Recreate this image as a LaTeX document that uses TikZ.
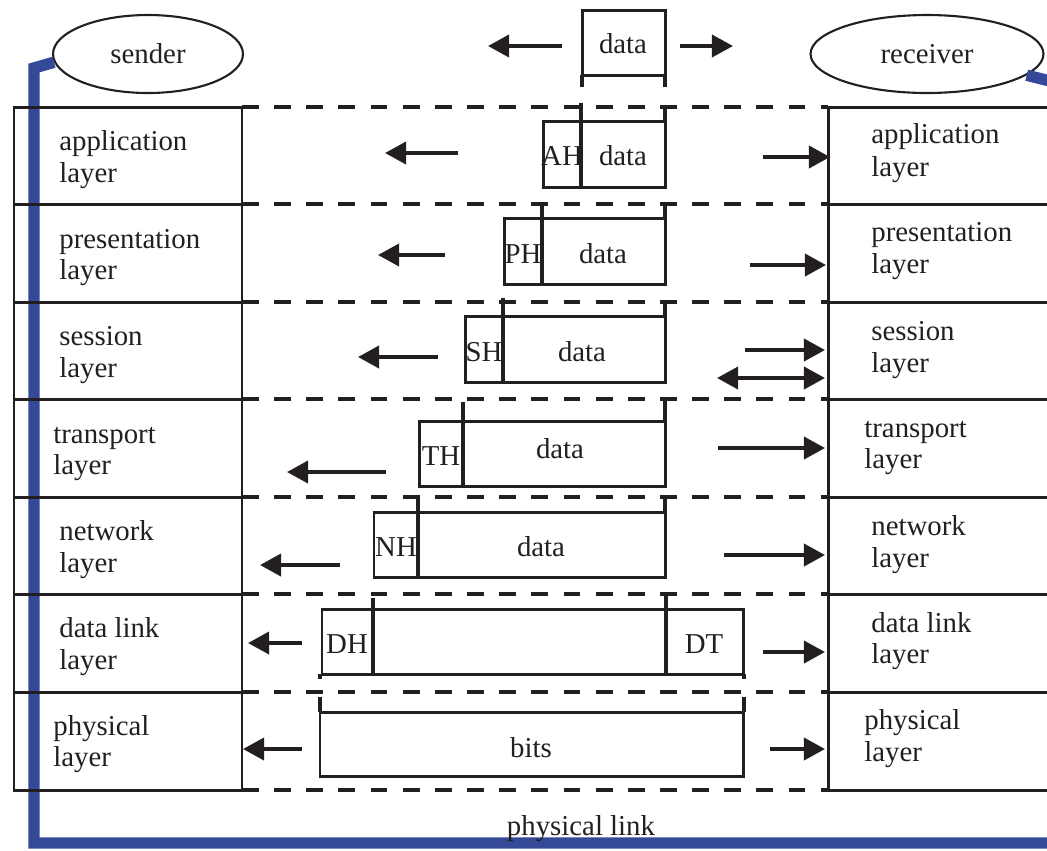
\documentclass[tikz,border=0pt]{standalone}
\usepackage{fontspec}
\setmainfont{Liberation Serif}
\usetikzlibrary{arrows.meta,shapes.geometric}
\definecolor{ink}{RGB}{35,31,32}
\definecolor{linkblue}{RGB}{52,73,152}
\begin{document}
\begin{tikzpicture}[x=0.02cm,y=-0.02cm,
  stackline/.style={ink, line width=1.7pt},
  dashline/.style={ink, line width=2pt, dash pattern=on 9.6pt off 8.7pt},
  pkt/.style={draw=ink, line width=1.7pt},
  sepline/.style={ink, line width=2.2pt},
  flow/.style={ink, line width=2.3pt, -{Triangle[length=12pt,width=12.5pt]}},
  flowboth/.style={ink, line width=2.3pt, {Triangle[length=12pt,width=12.5pt]}-{Triangle[length=12pt,width=12.5pt]}},
  lbl/.style={anchor=base west, inner sep=0pt, font=\fontsize{16.4}{18}\selectfont, text=ink},
  ptxt/.style={anchor=base, inner sep=0pt, font=\fontsize{16.4}{18}\selectfont, text=ink},
  endpt/.style={ellipse, draw=ink, line width=1.2pt, inner sep=0pt, minimum height=1.56cm, font=\fontsize{16.4}{18}\selectfont, text=ink}
]
\useasboundingbox (0,0) rectangle (1047,850);
\clip (0,0) rectangle (1047,850);

% end points
\node[endpt, minimum width=3.8cm] (sender) at (148,54) {sender};
\node[endpt, minimum width=4.66cm] (receiver) at (927,54) {receiver};

% physical link
\draw[linkblue, line width=6.5pt] (sender.185) -- (34,68) -- (34,843) -- (1062,843) -- (1062,84) -- (receiver.-12);
\node[ptxt] (plink) at (581,835) {physical link};

% left stack
\draw[stackline] (14,107) rectangle (242,790);
\foreach \yy in {204,302,399,497,594,692} \draw[stackline] (14,\yy) -- (242,\yy);
% right stack
\draw[stackline] (1062,107) -- (828,107) -- (828,790) -- (1062,790);
\foreach \yy in {204,302,399,497,594,692} \draw[stackline] (828,\yy) -- (1062,\yy);
% dashed boundaries
\foreach \yy in {107,204,302,399,497,594,692,790} \draw[dashline] (242,\yy) -- (828,\yy);

% left labels
\node[lbl] (sa1) at (59,150) {application};
\node[lbl] (sa2) at (59,182) {layer};
\node[lbl] (sp1) at (59,248) {presentation};
\node[lbl] (sp2) at (59,279) {layer};
\node[lbl] (ss1) at (59,345) {session};
\node[lbl] (ss2) at (59,377) {layer};
\node[lbl] (st1) at (53,443) {transport};
\node[lbl] (st2) at (53,474) {layer};
\node[lbl] (sn1) at (59,540) {network};
\node[lbl] (sn2) at (59,572) {layer};
\node[lbl] (sd1) at (59,637) {data link};
\node[lbl] (sd2) at (59,669) {layer};
\node[lbl] (sy1) at (53,735) {physical};
\node[lbl] (sy2) at (53,766) {layer};

% right labels
\node[lbl] (ra1) at (871,143) {application};
\node[lbl] (ra2) at (871,176) {layer};
\node[lbl] (rp1) at (871,241) {presentation};
\node[lbl] (rp2) at (871,273) {layer};
\node[lbl] (rs1) at (871,340) {session};
\node[lbl] (rs2) at (871,372) {layer};
\node[lbl] (rt1) at (864,437) {transport};
\node[lbl] (rt2) at (864,468) {layer};
\node[lbl] (rn1) at (871,535) {network};
\node[lbl] (rn2) at (871,567) {layer};
\node[lbl] (rd1) at (871,632) {data link};
\node[lbl] (rd2) at (871,663) {layer};
\node[lbl] (ry1) at (864,729) {physical};
\node[lbl] (ry2) at (864,761) {layer};

% packets
\draw[pkt] (582,10) rectangle (665,75);
\draw[sepline] (582,75) -- (582,87);
\draw[sepline] (665,75) -- (665,87);
\node[ptxt] (d0) at (623,53) {data};

\draw[pkt] (543,121) rectangle (665,187);
\draw[sepline] (581,103) -- (581,187);
\draw[sepline] (665,107) -- (665,121);
\node[ptxt] (ah) at (562,165) {AH};
\node[ptxt] (d1) at (623,165) {data};

\draw[pkt] (504,218) rectangle (665,284);
\draw[sepline] (542,202) -- (542,284);
\draw[sepline] (665,203) -- (665,218);
\node[ptxt] (ph) at (523,263) {PH};
\node[ptxt] (d2) at (603,263) {data};

\draw[pkt] (465,316) rectangle (665,382);
\draw[sepline] (503,298) -- (503,382);
\draw[sepline] (665,300) -- (665,316);
\node[ptxt] (sh) at (484,361) {SH};
\node[ptxt] (d3) at (582,361) {data};

\draw[pkt] (419,421) rectangle (665,486);
\draw[sepline] (463,402) -- (463,486);
\draw[sepline] (665,400) -- (665,421);
\node[ptxt] (th) at (441,465) {TH};
\node[ptxt] (d4) at (560,458) {data};

\draw[pkt] (374,512) rectangle (665,577);
\draw[sepline] (418,495) -- (418,577);
\draw[sepline] (665,497) -- (665,512);
\node[ptxt] (nh) at (396,556) {NH};
\node[ptxt] (d5) at (541,556) {data};

\draw[pkt] (322,609) rectangle (743,674);
\draw[sepline] (373,598) -- (373,674);
\draw[sepline] (666,592) -- (666,674);
\draw[sepline] (320,674) -- (320,679);
\draw[sepline] (744,674) -- (744,679);
\node[ptxt] (dh) at (347,653) {DH};
\node[ptxt] (dt) at (704,653) {DT};

\draw[pkt] (320,712) rectangle (743,776);
\draw[sepline] (320,697) -- (320,712);
\draw[sepline] (744,697) -- (744,712);
\node[ptxt] (bits) at (531,757) {bits};

% sender-side arrows
\draw[flow] (562,46) -- (488,46);
\draw[flow] (680,46) -- (733,46);
\draw[flow] (458,153) -- (385,153);
\draw[flow] (445,255) -- (378,255);
\draw[flow] (438,357) -- (358,357);
\draw[flow] (386,472) -- (287,472);
\draw[flow] (340,565) -- (260,565);
\draw[flow] (302,643) -- (248,643);
\draw[flow] (302,749) -- (243,749);

% receiver-side arrows
\draw[flow] (763,157) -- (830,157);
\draw[flow] (750,265) -- (826,265);
\draw[flow] (745,350) -- (825,350);
\draw[flowboth] (717,378) -- (825,378);
\draw[flow] (718,448) -- (825,448);
\draw[flow] (724,555) -- (825,555);
\draw[flow] (763,652) -- (825,652);
\draw[flow] (770,749) -- (825,749);
\end{tikzpicture}
\end{document}
